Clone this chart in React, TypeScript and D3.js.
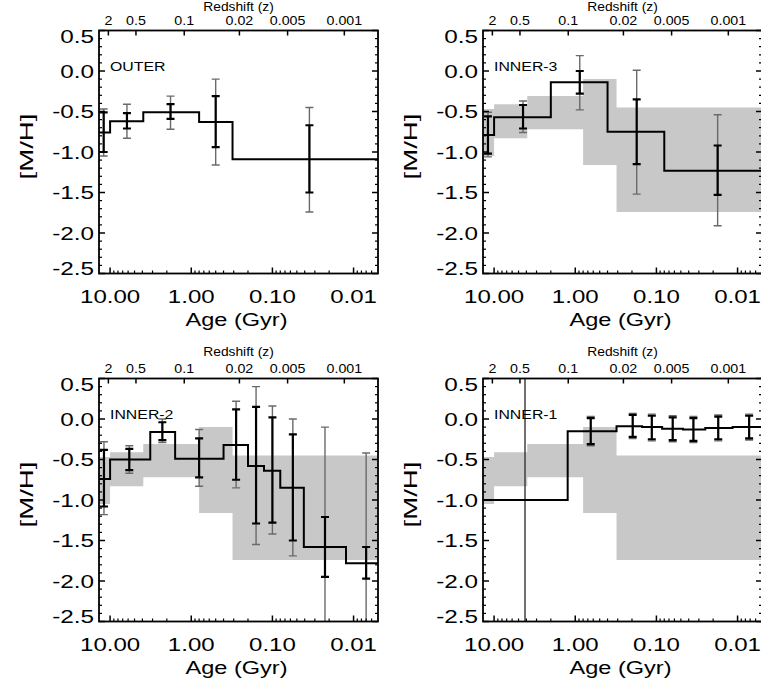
import React from "react";
import * as d3 from "d3";

// ---------- axes ----------
const AGE_MAX = 13.7;
const AGE_MIN = 0.005;
const MH_TOP = 0.5;
const MH_BOTTOM = -2.5;
const yTickValues = [0.5, 0.0, -0.5, -1.0, -1.5, -2.0, -2.5];
const yTickLabels = ["0.5", "0.0", "-0.5", "-1.0", "-1.5", "-2.0", "-2.5"];
const xTickValues = [10, 1, 0.1, 0.01];
const xTickLabels = ["10.00", "1.00", "0.10", "0.01"];
const zTickLabels = ["2", "0.5", "0.1", "0.02", "0.005", "0.001"];
const zTickAges = [10.5, 4.8, 1.22, 0.255, 0.065, 0.013];

// ---------- OUTER (also drawn as grey band in the inner panels) ----------
const outerEdges = [13.7, 10, 3.9, 0.8, 0.31, 0.005];
const outerValues = [-0.76, -0.62, -0.51, -0.63, -1.09];
const outerBarAges = [12.0, 6.2, 1.8, 0.5, 0.035];
const outerInnerHi = [-0.51, -0.52, -0.41, -0.31, -0.67];
const outerInnerLo = [-1.0, -0.71, -0.59, -0.94, -1.5];
const outerOuterHi = [-0.47, -0.41, -0.31, -0.1, -0.45];
const outerOuterLo = [-1.05, -0.83, -0.72, -1.16, -1.74];

// ---------- INNER-3 ----------
const inner3Edges = [13.7, 10, 2.0, 0.4, 0.08, 0.005];
const inner3Values = [-0.79, -0.57, -0.14, -0.75, -1.23];
const inner3BarAges = [11.9, 4.4, 0.88, 0.175, 0.0176];
const inner3InnerHi = [-0.56, -0.42, 0.0, -0.35, -0.92];
const inner3InnerLo = [-1.02, -0.71, -0.28, -1.15, -1.53];
const inner3OuterHi = [-0.51, -0.37, 0.19, 0.01, -0.54];
const inner3OuterLo = [-1.06, -0.76, -0.48, -1.52, -1.91];

// ---------- INNER-2 ----------
const inner2Edges = [13.7, 10, 3.2, 1.58, 0.4, 0.2, 0.127, 0.08, 0.041, 0.0124, 0.005];
const inner2Values = [-0.74, -0.5, -0.16, -0.49, -0.32, -0.58, -0.64, -0.85, -1.58, -1.78];
const inner2BarAges = [11.9, 5.8, 2.27, 0.8, 0.28, 0.159, 0.1, 0.056, 0.0225, 0.007];
const inner2InnerHi = [-0.38, -0.37, -0.04, -0.24, 0.12, 0.15, 0.02, -0.19, -1.21, -1.58];
const inner2InnerLo = [-1.08, -0.63, -0.26, -0.72, -0.75, -1.29, -1.28, -1.5, -1.95, -1.97];
const inner2OuterHi = [-0.28, -0.33, 0.0, -0.13, 0.22, 0.4, 0.16, 0.0, -0.1, -0.42];
const inner2OuterLo = [-1.18, -0.67, -0.29, -0.83, -0.85, -1.55, -1.42, -1.69, -3.0, -3.0];

// ---------- INNER-1 ----------
const inner1Edges = [13.7, 1.24, 0.31, 0.15, 0.085, 0.047, 0.025, 0.0115, 0.005];
const inner1Values = [-1.0, -0.15, -0.09, -0.1, -0.12, -0.13, -0.11, -0.1];
const inner1BarAges = [4.16, 0.645, 0.196, 0.114, 0.063, 0.035, 0.0173, 0.0072];
const inner1InnerHi = [NaN, 0.01, 0.05, 0.04, 0.02, 0.01, 0.03, 0.04];
const inner1InnerLo = [NaN, -0.31, -0.22, -0.25, -0.26, -0.27, -0.25, -0.24];
const inner1OuterHi = [3.0, 0.03, 0.07, 0.06, 0.04, 0.03, 0.05, 0.06];
const inner1OuterLo = [-3.0, -0.33, -0.24, -0.27, -0.28, -0.29, -0.27, -0.26];

const panelNames = ["OUTER", "INNER-3", "INNER-2", "INNER-1"];

// ---------- layout ----------
const WIDTH = 761;
const HEIGHT = 689;
const LEFTS = [99, 483];
const TOPS = [30.5, 378.5];
const PW = 279;
const PH = 243;
const TITLE_BASE = [11, 356];
const FONT = "'Liberation Sans', Arial, Helvetica, sans-serif";

type PanelData = {
  name: string;
  edges: number[];
  values: number[];
  barAges: number[];
  innerHi: number[];
  innerLo: number[];
  outerHi: number[];
  outerLo: number[];
  band: boolean;
};

const panels: PanelData[] = [
  { name: panelNames[0], edges: outerEdges, values: outerValues, barAges: outerBarAges, innerHi: outerInnerHi, innerLo: outerInnerLo, outerHi: outerOuterHi, outerLo: outerOuterLo, band: false },
  { name: panelNames[1], edges: inner3Edges, values: inner3Values, barAges: inner3BarAges, innerHi: inner3InnerHi, innerLo: inner3InnerLo, outerHi: inner3OuterHi, outerLo: inner3OuterLo, band: true },
  { name: panelNames[2], edges: inner2Edges, values: inner2Values, barAges: inner2BarAges, innerHi: inner2InnerHi, innerLo: inner2InnerLo, outerHi: inner2OuterHi, outerLo: inner2OuterLo, band: true },
  { name: panelNames[3], edges: inner1Edges, values: inner1Values, barAges: inner1BarAges, innerHi: inner1InnerHi, innerLo: inner1InnerLo, outerHi: inner1OuterHi, outerLo: inner1OuterLo, band: true },
];

function Panel({ p, idx }: { p: PanelData; idx: number }) {
  const col = idx % 2;
  const row = Math.floor(idx / 2);
  const left = LEFTS[col];
  const top = TOPS[row];
  const right = left + PW;
  const bottom = top + PH;
  const x = d3.scaleLog().domain([AGE_MAX, AGE_MIN]).range([left, right]);
  const y = d3.scaleLinear().domain([MH_TOP, MH_BOTTOM]).range([top, bottom]);
  const clipId = `clip${idx}`;

  // step line
  const stepPts: [number, number][] = p.values.map((v, i) => [p.edges[i], v]);
  stepPts.push([p.edges[p.edges.length - 1], p.values[p.values.length - 1]]);
  const stepLine = d3
    .line<[number, number]>()
    .x((d) => x(d[0]))
    .y((d) => y(d[1]))
    .curve(d3.curveStepAfter)(stepPts);

  // grey band from OUTER outer errors
  const bandPts = outerOuterHi.map((hi, i) => ({ a: outerEdges[i], hi, lo: outerOuterLo[i] }));
  bandPts.push({ a: outerEdges[outerEdges.length - 1], hi: outerOuterHi[outerOuterHi.length - 1], lo: outerOuterLo[outerOuterLo.length - 1] });
  const bandPath = d3
    .area<{ a: number; hi: number; lo: number }>()
    .x((d) => x(d.a))
    .y0((d) => y(d.lo))
    .y1((d) => y(d.hi))
    .curve(d3.curveStepAfter)(bandPts);

  // ticks
  const yMinor = d3.range(-25, 6).map((k) => k / 10).filter((v) => Math.abs(Math.round(v * 2) - v * 2) > 1e-6);
  const xMinor: number[] = [];
  [-3, -2, -1, 0, 1].forEach((e) => {
    for (let m = 2; m <= 9; m++) {
      const v = m * Math.pow(10, e);
      if (v < AGE_MAX && v > AGE_MIN) xMinor.push(v);
    }
  });

  const yLabelOffset = (i: number) => (i === 0 ? 12.5 : i === yTickValues.length - 1 ? 1 : 6.5);

  return (
    <g>
      <defs>
        <clipPath id={clipId}>
          <rect x={left} y={top} width={PW} height={PH} />
        </clipPath>
      </defs>
      <g clipPath={`url(#${clipId})`}>
        {p.band && <path d={bandPath || ""} fill="#c8c8c8" stroke="none" />}
        {p.barAges.map((a, i) => {
          const cx = x(a);
          const els = [];
          const full = p.outerHi[i] > MH_TOP && p.outerLo[i] < MH_BOTTOM;
          if (!isNaN(p.outerHi[i])) {
            els.push(
              <g key={`o${i}`} stroke={full ? "#333" : "#6a6a6a"} strokeWidth={1.4}>
                <line x1={cx} x2={cx} y1={y(p.outerHi[i])} y2={y(p.outerLo[i])} />
                <line x1={cx - 4} x2={cx + 4} y1={y(p.outerHi[i])} y2={y(p.outerHi[i])} />
                <line x1={cx - 4} x2={cx + 4} y1={y(p.outerLo[i])} y2={y(p.outerLo[i])} />
              </g>
            );
          }
          if (!isNaN(p.innerHi[i])) {
            els.push(
              <g key={`i${i}`} stroke="#000" strokeWidth={2.2}>
                <line x1={cx} x2={cx} y1={y(p.innerHi[i])} y2={y(p.innerLo[i])} />
                <line x1={cx - 4} x2={cx + 4} y1={y(p.innerHi[i])} y2={y(p.innerHi[i])} />
                <line x1={cx - 4} x2={cx + 4} y1={y(p.innerLo[i])} y2={y(p.innerLo[i])} />
              </g>
            );
          }
          return <g key={i}>{els}</g>;
        })}
        <path d={stepLine || ""} fill="none" stroke="#000" strokeWidth={2} />
      </g>

      {/* frame */}
      <rect x={left} y={top} width={PW} height={PH} fill="none" stroke="#000" strokeWidth={1.8} />

      {/* y ticks left & right */}
      {yTickValues.map((v) => (
        <g key={`yt${v}`} stroke="#000" strokeWidth={1.5}>
          <line x1={left} x2={left + 6} y1={y(v)} y2={y(v)} />
          <line x1={right} x2={right - 6} y1={y(v)} y2={y(v)} />
        </g>
      ))}
      {yMinor.map((v) => (
        <g key={`ym${v}`} stroke="#000" strokeWidth={1.2}>
          <line x1={left} x2={left + 3} y1={y(v)} y2={y(v)} />
          <line x1={right} x2={right - 3} y1={y(v)} y2={y(v)} />
        </g>
      ))}
      {yTickLabels.map((t, i) => (
        <text
          key={`yl${t}`}
          transform={`translate(${left - 5},${y(yTickValues[i]) + yLabelOffset(i)}) scale(1.35,1)`}
          textAnchor="end"
          fontSize={18}
          fontFamily={FONT}
          fill="#000"
        >
          {t}
        </text>
      ))}

      {/* bottom ticks */}
      {xTickValues.map((v) => (
        <line key={`xt${v}`} x1={x(v)} x2={x(v)} y1={bottom} y2={bottom - 6} stroke="#000" strokeWidth={1.5} />
      ))}
      {xMinor.map((v) => (
        <line key={`xm${v}`} x1={x(v)} x2={x(v)} y1={bottom} y2={bottom - 3} stroke="#000" strokeWidth={1.2} />
      ))}
      {xTickLabels.map((t, i) => (
        <text
          key={`xl${t}`}
          transform={`translate(${x(xTickValues[i])},${bottom + 29.5}) scale(1.3,1)`}
          textAnchor="middle"
          fontSize={18.5}
          fontFamily={FONT}
          fill="#000"
        >
          {t}
        </text>
      ))}
      <text
        transform={`translate(${(left + right) / 2 - 2},${bottom + 52.5}) scale(1.24,1)`}
        textAnchor="middle"
        fontSize={19}
        fontFamily={FONT}
        fill="#000"
      >
        Age (Gyr)
      </text>
      <text
        transform={`translate(${left - 66.5},${top + 116}) rotate(-90) scale(1.45,1)`}
        textAnchor="middle"
        fontSize={19}
        fontFamily={FONT}
        fill="#000"
      >
        [M/H]
      </text>

      {/* top redshift axis */}
      {zTickAges.map((a) => (
        <line key={`zt${a}`} x1={x(a)} x2={x(a)} y1={top} y2={top + 5} stroke="#000" strokeWidth={1.5} />
      ))}
      {zTickLabels.map((t, i) => (
        <text
          key={`zl${t}`}
          transform={`translate(${x(zTickAges[i])},${top - 5.5}) scale(1.14,1)`}
          textAnchor="middle"
          fontSize={12.5}
          fontFamily={FONT}
          fill="#000"
        >
          {t}
        </text>
      ))}
      <text
        transform={`translate(${(left + right) / 2},${TITLE_BASE[row]}) scale(1.15,1)`}
        textAnchor="middle"
        fontSize={12}
        fontFamily={FONT}
        fill="#000"
      >
        Redshift (z)
      </text>

      {/* panel label */}
      <text
        transform={`translate(${left + 11},${top + 40.5}) scale(1.22,1)`}
        fontSize={13}
        fontFamily={FONT}
        fill="#000"
      >
        {p.name}
      </text>
    </g>
  );
}

export default function App() {
  return (
    <svg
      width={WIDTH}
      height={HEIGHT}
      viewBox={`0 0 ${WIDTH} ${HEIGHT}`}
      style={{ position: "absolute", left: 0, top: 0, background: "#fff" }}
    >
      <rect x={0} y={0} width={WIDTH} height={HEIGHT} fill="#fff" />
      {panels.map((p, i) => (
        <Panel key={p.name} p={p} idx={i} />
      ))}
    </svg>
  );
}
